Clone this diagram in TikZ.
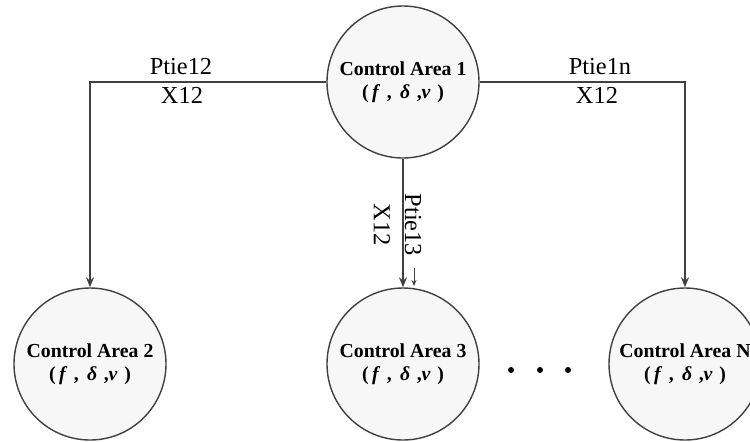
\documentclass[tikz,border=0pt]{standalone}
\usepackage{fontspec}
\setmainfont{Liberation Serif}
\usetikzlibrary{arrows.meta}
\tikzset{
  area/.style={circle, draw=black!75, line width=0.7pt, fill=gray!6, minimum size=152*0.5pt, inner sep=0pt, align=center, font=\fontsize{9.9}{11.6}\selectfont\bfseries},
  conn/.style={draw=black!75, line width=0.7pt, -{Stealth[length=5pt,width=4pt]}},
  lbl/.style={font=\fontsize{12.2}{14}\selectfont, inner sep=0pt},
  dot/.style={circle, fill=black, inner sep=0pt, minimum size=3pt}
}
\newcommand{\fdv}{(\,\textit{f}\,\,,\, \textit{δ}\,\,,\textit{v}\,\,)}
\begin{document}
\begin{tikzpicture}[x=0.5pt,y=-0.5pt]
\useasboundingbox (0,0) rectangle (750,441);
\node[area] (a1) at (403,82) {Control Area 1\\\fdv};
\node[area] (a2) at (90,364) {Control Area 2\\\fdv};
\node[area] (a3) at (403,364) {Control Area 3\\\fdv};
\node[area] (an) at (685,364) {Control Area N\\\fdv};
\draw[conn] (a1.west) -| (a2.north);
\draw[conn] (a1.east) -| (an.north);
\draw[conn] (a1.south) -- (a3.north);
\node[lbl] (l12) at (181,67) {Ptie12};
\node[lbl] (x12a) at (182,95) {X12};
\node[lbl] (l1n) at (600,67) {Ptie1n};
\node[lbl] (x12b) at (597,95) {X12};
\node[lbl, rotate=-90] (l13) at (413,225) {Ptie13};
\node[lbl, rotate=-90] (x12c) at (382,225) {X12};
\coordinate (s1) at (414,268);
\coordinate (s2) at (414,286);
\draw[draw=black!75, line width=0.4pt, -{Stealth[length=3pt,width=2.5pt]}] (s1) -- (s2);
\node[dot] (d1) at (511,370) {};
\node[dot] (d2) at (540,370) {};
\node[dot] (d3) at (568,370) {};
\end{tikzpicture}
\end{document}
